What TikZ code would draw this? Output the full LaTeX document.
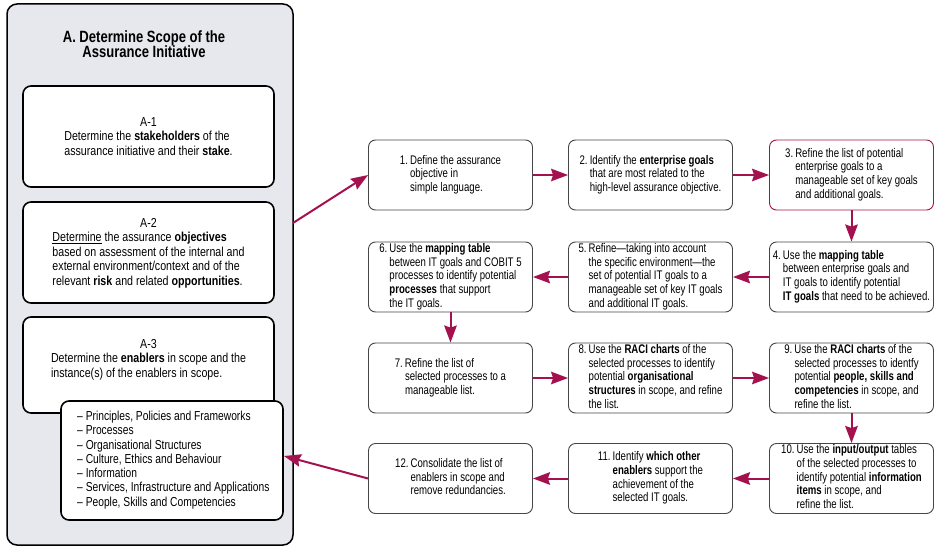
\documentclass[tikz,border=0pt]{standalone}
\usepackage{fontspec}
\setmainfont{Liberation Sans}[FakeStretch=0.77]
\newfontfamily\afont{Liberation Sans}[FakeStretch=0.82]
\newfontfamily\enfont{Liberation Sans}[FakeStretch=0.79]
\newfontfamily\tfont{Liberation Sans}[FakeStretch=0.8]
\usetikzlibrary{arrows.meta}
\definecolor{crim}{RGB}{163,18,78}
\definecolor{panel}{RGB}{231,232,237}
\definecolor{boxline}{RGB}{70,70,70}
\tikzset{
  stepbox/.style={draw=boxline, line width=0.9pt, rounded corners=7pt, fill=white,
    minimum width=164pt, minimum height=70pt, inner sep=0pt,
    font=\fontsize{12.5}{13.7}\selectfont},
  abox/.style={draw=black, line width=1.6pt, rounded corners=8pt, fill=white, inner sep=0pt},
  atext/.style={inner sep=0pt, font=\afont\fontsize{13}{14.5}\selectfont},
  flow/.style={draw=crim, line width=2pt, -{Stealth[length=17pt,width=12.5pt,inset=2pt]}}
}
\newcommand\nb[1]{\textbf{#1}}
\begin{document}
\begin{tikzpicture}[x=1pt,y=-1pt]
\useasboundingbox (0,0) rectangle (945,551);
% left panel
\node[draw=black, line width=1.5pt, rounded corners=10pt, fill=panel, inner sep=0pt,
  minimum width=286pt, minimum height=541pt] (panel) at (150,274.5) {};
\node[inner sep=0pt, align=center, font=\tfont\fontsize{16.3}{15.5}\selectfont\bfseries] (title) at (144,44)
  {A. Determine Scope of the\\Assurance Initiative};
% A boxes
\node[abox, minimum width=251pt, minimum height=101pt] (a1) at (148.5,136.5) {};
\node[atext] (a1t) at (148.5,138) {\begin{tabular}{@{}l@{}}\multicolumn{1}{c}{A-1}\\
  Determine the \nb{stakeholders} of the\\ assurance initiative and their \nb{stake}.\end{tabular}};
\node[abox, minimum width=251pt, minimum height=101pt] (a2) at (148.5,252.5) {};
\node[atext] (a2t) at (148.5,253.5) {\begin{tabular}{@{}l@{}}\multicolumn{1}{c}{A-2}\\
  \underline{Determine} the assurance \nb{objectives}\\
  based on assessment of the internal and\\
  external environment/context and of the\\
  relevant \nb{risk} and related \nb{opportunities}.\end{tabular}};
\node[abox, minimum width=251pt, minimum height=96pt] (a3) at (148.5,365) {};
\node[atext] (a3t) at (148.5,360) {\begin{tabular}{@{}l@{}}\multicolumn{1}{c}{A-3}\\
  Determine the \nb{enablers} in scope and the\\
  instance(s) of the enablers in scope.\end{tabular}};
\node[abox, minimum width=222pt, minimum height=119pt] (enl) at (172,460.5) {};
\node[inner sep=0pt, anchor=west, align=left, font=\enfont\fontsize{13}{14.3}\selectfont] (enlt) at (77,460)
  {– Principles, Policies and Frameworks\\
   – Processes\\
   – Organisational Structures\\
   – Culture, Ethics and Behaviour\\
   – Information\\
   – Services, Infrastructure and Applications\\
   – People, Skills and Competencies};
% step boxes
\node[stepbox] (b1) at (450.5,175) {\begin{tabular}{@{}l@{\,}l@{}}1. & Define the assurance\\ & objective in\\ & simple language.\end{tabular}};
\node[stepbox] (b2) at (650.5,175) {\begin{tabular}{@{}l@{\,}l@{}}2. & Identify the \nb{enterprise goals}\\ & that are most related to the\\ & high-level assurance objective.\end{tabular}};
\node[stepbox, draw=crim] (b3) at (851.5,175) {\begin{tabular}{@{}l@{\,}l@{}}3. & Refine the list of potential\\ & enterprise goals to a\\ & manageable set of key goals\\ & and additional goals.\end{tabular}};
\node[stepbox] (b4) at (851.5,277) {\begin{tabular}{@{}l@{\,}l@{}}4. & Use the \nb{mapping table}\\ & between enterprise goals and\\ & IT goals to identify potential\\ & \nb{IT goals} that need to be achieved.\end{tabular}};
\node[stepbox] (b5) at (650.5,277) {\begin{tabular}{@{}l@{\,}l@{}}5. & Refine—taking into account\\ & the specific environment—the\\ & set of potential IT goals to a\\ & manageable set of key IT goals\\ & and additional IT goals.\end{tabular}};
\node[stepbox] (b6) at (450.5,277) {\begin{tabular}{@{}l@{\,}l@{}}6. & Use the \nb{mapping table}\\ & between IT goals and COBIT 5\\ & processes to identify potential\\ & \nb{processes} that support\\ & the IT goals.\end{tabular}};
\node[stepbox] (b7) at (450.5,378) {\begin{tabular}{@{}l@{\,}l@{}}7. & Refine the list of\\ & selected processes to a\\ & manageable list.\end{tabular}};
\node[stepbox] (b8) at (650.5,378) {\begin{tabular}{@{}l@{\,}l@{}}8. & Use the \nb{RACI charts} of the\\ & selected processes to identify\\ & potential \nb{organisational}\\ & \nb{structures} in scope, and refine\\ & the list.\end{tabular}};
\node[stepbox] (b9) at (851.5,378) {\begin{tabular}{@{}l@{\,}l@{}}9. & Use the \nb{RACI charts} of the\\ & selected processes to identfy\\ & potential \nb{people, skills and}\\ & \nb{competencies} in scope, and\\ & refine the list.\end{tabular}};
\node[stepbox] (b10) at (851.5,478.5) {\begin{tabular}{@{}l@{\,}l@{}}10. & Use the \nb{input/output} tables\\ & of the selected processes to\\ & identify potential \nb{information}\\ & \nb{items} in scope, and\\ & refine the list.\end{tabular}};
\node[stepbox] (b11) at (650.5,478.5) {\begin{tabular}{@{}l@{\,}l@{}}11. & Identify \nb{which other}\\ & \nb{enablers} support the\\ & achievement of the\\ & selected IT goals.\end{tabular}};
\node[stepbox] (b12) at (450.5,478.5) {\begin{tabular}{@{}l@{\,}l@{}}12. & Consolidate the list of\\ & enablers in scope and\\ & remove redundancies.\end{tabular}};
% connectors
\coordinate (pout) at (293,223);
\coordinate (ein) at (284,456);
\draw[flow] (pout) -- (b1.west);
\draw[flow] (b1) -- (b2);
\draw[flow] (b2) -- (b3);
\draw[flow] (b3) -- (b4);
\draw[flow] (b4) -- (b5);
\draw[flow] (b5) -- (b6);
\draw[flow] (b6) -- (b7);
\draw[flow] (b7) -- (b8);
\draw[flow] (b8) -- (b9);
\draw[flow] (b9) -- (b10);
\draw[flow] (b10) -- (b11);
\draw[flow] (b11) -- (b12);
\draw[flow] (b12.west) -- (ein);
\end{tikzpicture}
\end{document}
